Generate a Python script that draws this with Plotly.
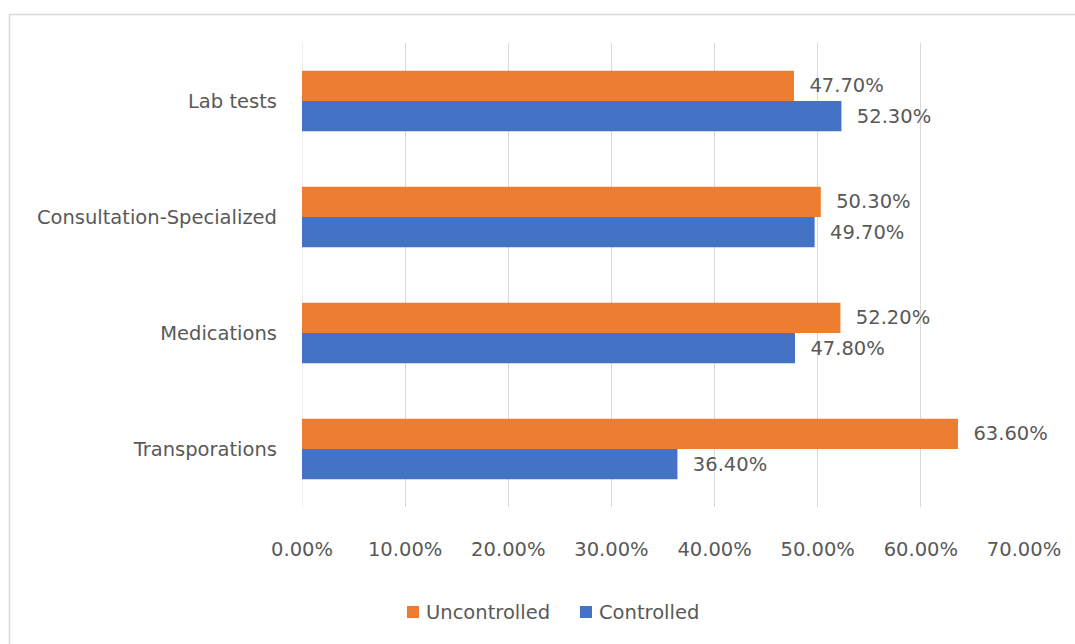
import plotly.graph_objects as go

categories = ["Transporations", "Medications", "Consultation-Specialized", "Lab tests"]
controlled = [36.4, 47.8, 49.7, 52.3]
uncontrolled = [63.6, 52.2, 50.3, 47.7]
x_ticks = [0, 10, 20, 30, 40, 50, 60, 70]
x_tick_labels = ["0.00%", "10.00%", "20.00%", "30.00%", "40.00%", "50.00%", "60.00%", "70.00%"]
series_names = ["Uncontrolled", "Controlled"]
series_colors = ["#ED7D31", "#4472C4"]

W, H = 1075, 644
L, R, T, B = 302, 51, 43, 137
GRAY = "#595959"
FONT = "DejaVu Sans"
FS = 19.5

fig = go.Figure()
fig.add_trace(go.Bar(
    y=categories, x=controlled, orientation="h", name=series_names[1],
    marker=dict(color=series_colors[1], line=dict(width=0)),
    text=["  %.2f%%" % v for v in controlled], textposition="outside",
    textfont=dict(color=GRAY, size=FS, family=FONT), cliponaxis=False,
))
fig.add_trace(go.Bar(
    y=categories, x=uncontrolled, orientation="h", name=series_names[0],
    marker=dict(color=series_colors[0], line=dict(width=0)),
    text=["  %.2f%%" % v for v in uncontrolled], textposition="outside",
    textfont=dict(color=GRAY, size=FS, family=FONT), cliponaxis=False,
))

pw = W - L - R
ph = H - T - B


def px_x(x):
    return (x - L) / pw


def px_y(y):
    return (H - B - y) / ph


shapes = [
    dict(type="rect", xref="paper", yref="paper",
         x0=px_x(9.5), x1=px_x(1110), y0=px_y(700), y1=px_y(14.5),
         line=dict(color="#D9D9D9", width=1.5), layer="below"),
    dict(type="line", xref="x", yref="paper", x0=0, x1=0, y0=0, y1=1,
         line=dict(color="#D9D9D9", width=1), layer="below"),
]
annotations = []
legend_sq_x = [407, 580]
legend_y = 612
for name, color, sx in zip(series_names, series_colors, legend_sq_x):
    shapes.append(dict(type="rect", xref="paper", yref="paper",
                       x0=px_x(sx), x1=px_x(sx + 12),
                       y0=px_y(legend_y + 6), y1=px_y(legend_y - 6),
                       fillcolor=color, line=dict(width=0)))
    annotations.append(dict(xref="paper", yref="paper", x=px_x(sx + 17),
                            y=px_y(legend_y), xanchor="left", yanchor="middle",
                            text=name, showarrow=False,
                            font=dict(size=FS, color=GRAY, family=FONT)))

fig.update_layout(
    width=W, height=H,
    margin=dict(l=L, r=R, t=T, b=B, pad=0),
    paper_bgcolor="white", plot_bgcolor="white",
    barmode="group", bargap=0.48, bargroupgap=0,
    font=dict(family=FONT, color=GRAY, size=FS),
    xaxis=dict(range=[0, 70], tickvals=x_ticks, ticktext=x_tick_labels,
               showgrid=True, gridcolor="#D9D9D9", gridwidth=1,
               zeroline=False, showline=False, ticks="",
               tickfont=dict(size=FS, color=GRAY, family=FONT),
               ticklabelstandoff=28, fixedrange=True),
    yaxis=dict(showgrid=False, zeroline=False, showline=False, ticks="",
               tickfont=dict(size=FS, color=GRAY, family=FONT),
               ticklabelstandoff=24),
    showlegend=False,
    shapes=shapes,
    annotations=annotations,
)
fig.write_html("out.html")
